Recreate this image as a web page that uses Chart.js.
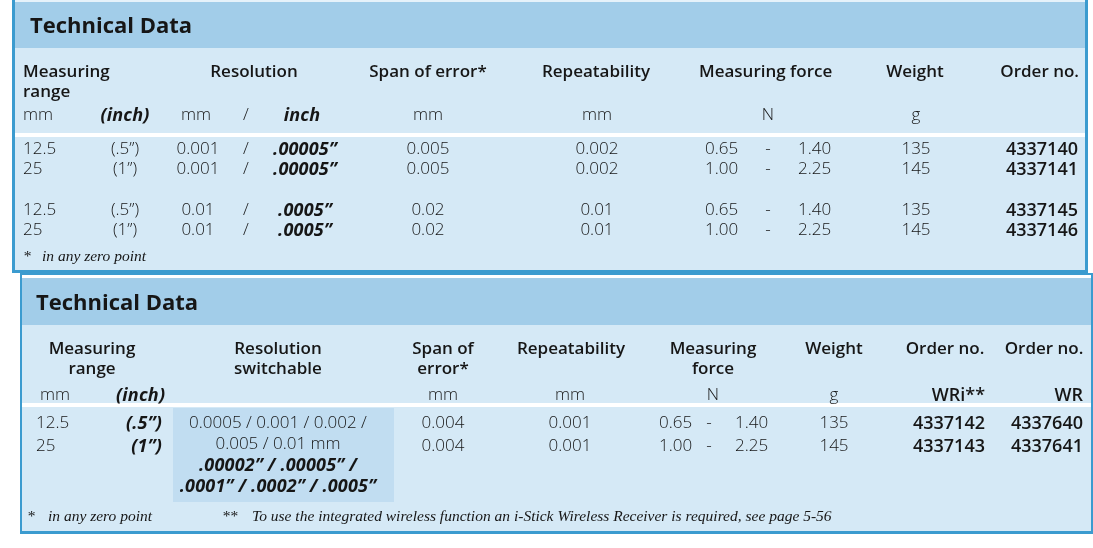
<!DOCTYPE html>
<html>
<head>
<meta charset="utf-8">
<script src="https://cdn.jsdelivr.net/npm/chart.js@4.4.1/dist/chart.umd.min.js"></script>
<style>
  html, body { margin: 0; padding: 0; background: #ffffff; }
  #stage { position: relative; width: 1093px; height: 548px; overflow: hidden; }
  #bg { position: absolute; left: 0; top: 0; }
  #txt { position: absolute; left: 0; top: 0; width: 1093px; height: 548px; }
  .t { position: absolute; height: 22px; line-height: 22px; white-space: nowrap;
       font-family: "Open Sans", "Noto Sans", "DejaVu Sans", sans-serif; color: #161616; }
  .title { font-size: 22px; font-weight: 700; height: 30px; line-height: 30px; }
  .head { font-size: 17px; font-weight: 600; }
  .val { font-size: 17px; font-weight: 300; }
  .bi { font-size: 18px; font-weight: 700; font-style: italic; letter-spacing: 0.2px; }
  .b { font-size: 18px; font-weight: 600; }
  .note { font-family: "Liberation Serif", "DejaVu Serif", serif; font-style: italic; font-size: 15.5px; }
</style>
</head>
<body>
<div id="stage">
  <canvas id="bg" width="1093" height="548"></canvas>
  <div id="txt"></div>
</div>
<script>
// ---------------- DATA ----------------
const tableTitles = ["Technical Data", "Technical Data"];

// Table 1
const t1Headers = ["Measuring", "range", "Resolution", "Span of error*", "Repeatability", "Measuring force", "Weight", "Order no."];
const t1Units = ["mm", "(inch)", "mm", "/", "inch", "mm", "mm", "N", "g"];
const t1RangeMm = ["12.5", "25", "12.5", "25"];
const t1RangeInch = ["(.5”)", "(1”)", "(.5”)", "(1”)"];
const t1ResMm = ["0.001", "0.001", "0.01", "0.01"];
const t1ResInch = [".00005”", ".00005”", ".0005”", ".0005”"];
const t1Span = ["0.005", "0.005", "0.02", "0.02"];
const t1Repeat = ["0.002", "0.002", "0.01", "0.01"];
const t1ForceMin = ["0.65", "1.00", "0.65", "1.00"];
const t1ForceMax = ["1.40", "2.25", "1.40", "2.25"];
const t1Weight = ["135", "145", "135", "145"];
const t1Order = ["4337140", "4337141", "4337145", "4337146"];
const t1Notes = ["*", "in any zero point"];

// Table 2
const t2HeadersTop = ["Measuring", "Resolution", "Span of", "Repeatability", "Measuring", "Weight", "Order no.", "Order no."];
const t2HeadersBottom = ["range", "switchable", "error*", "force"];
const t2Units = ["mm", "(inch)", "mm", "mm", "N", "g", "WRi**", "WR"];
const t2RangeMm = ["12.5", "25"];
const t2RangeInch = ["(.5”)", "(1”)"];
const t2ResolutionLines = ["0.0005 / 0.001 / 0.002 /", "0.005 / 0.01 mm", ".00002” / .00005” /", ".0001” / .0002” / .0005”"];
const t2Span = ["0.004", "0.004"];
const t2Repeat = ["0.001", "0.001"];
const t2ForceMin = ["0.65", "1.00"];
const t2ForceMax = ["1.40", "2.25"];
const t2Weight = ["135", "145"];
const t2OrderWRi = ["4337142", "4337143"];
const t2OrderWR = ["4337640", "4337641"];
const t2Notes = ["*", "in any zero point", "**", "To use the integrated wireless function an i-Stick Wireless Receiver is required, see page 5-56"];

// ---------------- LAYOUT (page coordinates) ----------------
const C = { border: "#3b9bcf", band: "#a2cde9", body: "#d5e9f6", hi: "#c1ddf1", white: "#ffffff", top: "#e6f2fa" };
const frames = [
  // panel 1
  { x0: 12, x1: 1088, y0: 0, y1: 273, c: C.border },
  { x0: 15, x1: 1085, y0: 0, y1: 270, c: C.body },
  { x0: 15, x1: 1085, y0: 0, y1: 2, c: C.top },
  { x0: 15, x1: 1085, y0: 2, y1: 48, c: C.band },
  { x0: 15, x1: 1085, y0: 133, y1: 137, c: C.white },
  // panel 2
  { x0: 20, x1: 1093, y0: 273, y1: 534, c: C.border },
  { x0: 22, x1: 1091, y0: 275, y1: 531, c: C.body },
  { x0: 22, x1: 1091, y0: 275, y1: 278, c: C.white },
  { x0: 22, x1: 1091, y0: 278, y1: 325, c: C.band },
  { x0: 22, x1: 1091, y0: 403, y1: 407, c: C.white },
  { x0: 173, x1: 394, y0: 408, y1: 502, c: C.hi }
];

const framePlugin = {
  id: "panelFrames",
  beforeDatasetsDraw(chart) {
    const ctx = chart.ctx, xs = chart.scales.x, ys = chart.scales.y;
    ctx.save();
    frames.forEach(f => {
      const x0 = xs.getPixelForValue(f.x0), x1 = xs.getPixelForValue(f.x1);
      const y0 = ys.getPixelForValue(f.y0), y1 = ys.getPixelForValue(f.y1);
      ctx.fillStyle = f.c;
      ctx.fillRect(x0, y0, x1 - x0, y1 - y0);
    });
    ctx.restore();
  }
};

new Chart(document.getElementById("bg"), {
  type: "scatter",
  data: { datasets: [] },
  options: {
    responsive: false, animation: false, devicePixelRatio: 1,
    layout: { padding: 0 },
    plugins: { legend: { display: false }, tooltip: { enabled: false }, title: { display: false } },
    scales: {
      x: { type: "linear", min: 0, max: 1093, display: false },
      y: { type: "linear", min: 0, max: 548, reverse: true, display: false }
    }
  },
  plugins: [framePlugin]
});

// ---------------- TEXT ----------------
const host = document.getElementById("txt");
function put(text, x, y, align, cls) {
  const d = document.createElement("div");
  d.className = "t " + cls;
  d.textContent = text;
  const h = cls.indexOf("title") >= 0 ? 30 : 22;
  d.style.top = (y - h / 2) + "px";
  if (align === "left") { d.style.left = x + "px"; }
  else if (align === "center") { d.style.left = (x - 300) + "px"; d.style.width = "600px"; d.style.textAlign = "center"; }
  else { d.style.left = (x - 600) + "px"; d.style.width = "600px"; d.style.textAlign = "right"; }
  host.appendChild(d);
}

// Table 1
put(tableTitles[0], 30, 24, "left", "title");
put(t1Headers[0], 23, 71, "left", "head");
put(t1Headers[1], 23, 91, "left", "head");
put(t1Headers[2], 254, 71, "center", "head");
put(t1Headers[3], 428, 71, "center", "head");
put(t1Headers[4], 596, 71, "center", "head");
put(t1Headers[5], 699, 71, "left", "head");
put(t1Headers[6], 915, 71, "center", "head");
put(t1Headers[7], 1079, 71, "right", "head");

put(t1Units[0], 23, 114, "left", "val");
put(t1Units[1], 125, 114, "center", "bi");
put(t1Units[2], 196, 114, "center", "val");
put(t1Units[3], 246, 114, "center", "val");
put(t1Units[4], 302, 114, "center", "bi");
put(t1Units[5], 428, 114, "center", "val");
put(t1Units[6], 597, 114, "center", "val");
put(t1Units[7], 768, 114, "center", "val");
put(t1Units[8], 916, 114, "center", "val");

const t1RowY = [148, 168, 209, 229];
t1RowY.forEach((y, i) => {
  put(t1RangeMm[i], 23, y, "left", "val");
  put(t1RangeInch[i], 125, y, "center", "val");
  put(t1ResMm[i], 198, y, "center", "val");
  put("/", 246, y, "center", "val");
  put(t1ResInch[i], 305, y, "center", "bi");
  put(t1Span[i], 428, y, "center", "val");
  put(t1Repeat[i], 597, y, "center", "val");
  put(t1ForceMin[i], 705, y, "left", "val");
  put("-", 768, y, "center", "val");
  put(t1ForceMax[i], 798, y, "left", "val");
  put(t1Weight[i], 916, y, "center", "val");
  put(t1Order[i], 1078, y, "right", "b");
});
put(t1Notes[0], 23, 256, "left", "note");
put(t1Notes[1], 42, 256, "left", "note");

// Table 2
put(tableTitles[1], 36, 301, "left", "title");
const t2TopX = [92, 278, 443, 571, 713, 834, 945, 1044];
t2HeadersTop.forEach((h, i) => put(h, t2TopX[i], 348, "center", "head"));
const t2BotX = [92, 278, 443, 713];
t2HeadersBottom.forEach((h, i) => put(h, t2BotX[i], 368, "center", "head"));

put(t2Units[0], 40, 394, "left", "val");
put(t2Units[1], 116, 394, "left", "bi");
put(t2Units[2], 443, 394, "center", "val");
put(t2Units[3], 570, 394, "center", "val");
put(t2Units[4], 713, 394, "center", "val");
put(t2Units[5], 834, 394, "center", "val");
put(t2Units[6], 985, 394, "right", "b");
put(t2Units[7], 1083, 394, "right", "b");

const t2RowY = [422, 445];
t2RowY.forEach((y, i) => {
  put(t2RangeMm[i], 36, y, "left", "val");
  put(t2RangeInch[i], 162, y, "right", "bi");
  put(t2Span[i], 443, y, "center", "val");
  put(t2Repeat[i], 570, y, "center", "val");
  put(t2ForceMin[i], 659, y, "left", "val");
  put("-", 709, y, "center", "val");
  put(t2ForceMax[i], 735, y, "left", "val");
  put(t2Weight[i], 834, y, "center", "val");
  put(t2OrderWRi[i], 985, y, "right", "b");
  put(t2OrderWR[i], 1083, y, "right", "b");
});
const t2ResY = [422, 443, 464, 485];
t2ResolutionLines.forEach((s, i) => put(s, 278, t2ResY[i], "center", i < 2 ? "val" : "bi"));

put(t2Notes[0], 27, 516, "left", "note");
put(t2Notes[1], 48, 516, "left", "note");
put(t2Notes[2], 222, 516, "left", "note");
put(t2Notes[3], 252, 516, "left", "note");
</script>
</body>
</html>
